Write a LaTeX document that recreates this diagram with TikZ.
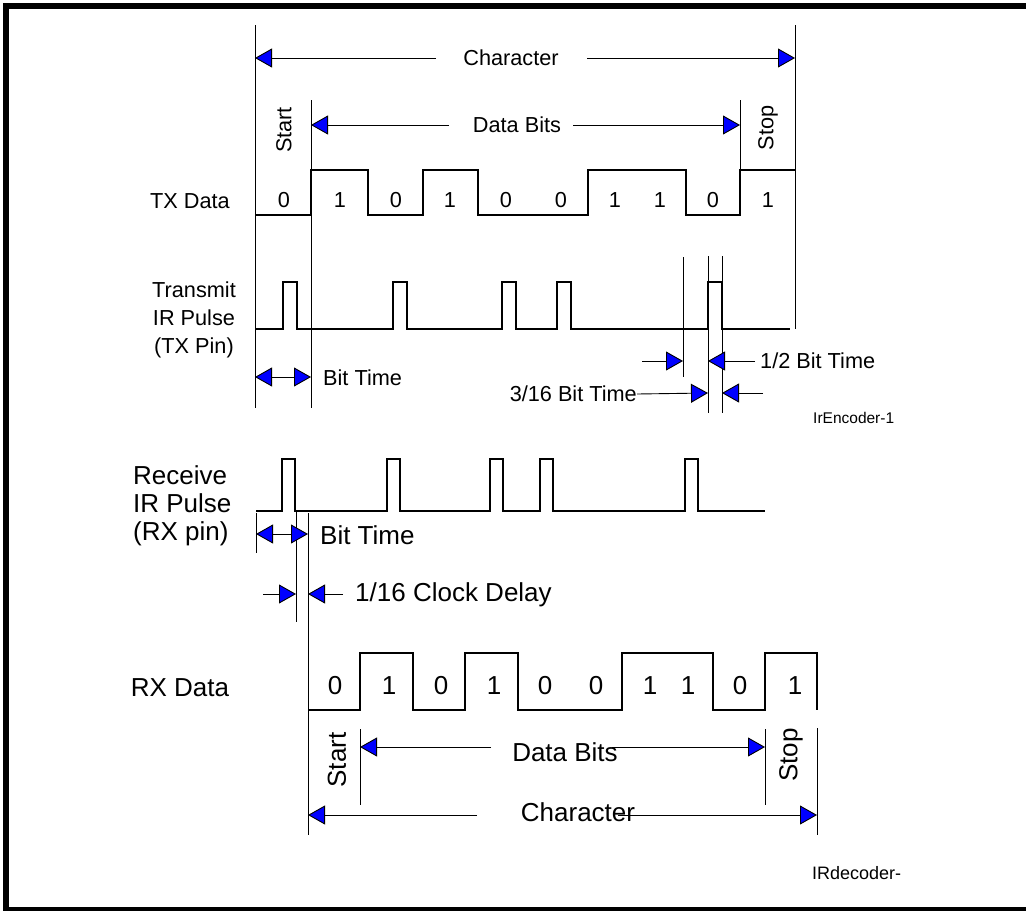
\documentclass[tikz,border=0pt]{standalone}
\usepackage{fontspec}
\setmainfont{Liberation Sans}
\usetikzlibrary{arrows.meta}
\tikzset{
  ln/.style={line width=1pt, black},
  wv/.style={line width=1.3pt, black, line join=miter},
  tip/.style={line width=0.9pt, -{Triangle[length=17pt,width=19pt,fill=blue]}},
  tips/.style={line width=0.9pt, {Triangle[length=17pt,width=19pt,fill=blue]}-{Triangle[length=17pt,width=19pt,fill=blue]}},
  ta/.style={font=\fontsize{21.7}{28}\selectfont, inner sep=0pt},
  tb/.style={font=\fontsize{26}{28}\selectfont, inner sep=0pt},
  tc/.style={font=\fontsize{15.5}{18}\selectfont, inner sep=0pt},
}
\begin{document}
\begin{tikzpicture}[x=1pt,y=-1pt]
\useasboundingbox (0,0) rectangle (1026,911);
% frame
\fill[black] (3,3) rectangle (1026,9);
\fill[black] (3,3) rectangle (9,911);
\fill[black] (3,907) rectangle (1026,911);

% ---------- top : TX ----------
\draw[ln] (255,25) -- (255,408);
\draw[ln] (795,25) -- (795,329);
\draw[ln] (311,100) -- (311,408);
\draw[ln] (740,100) -- (740,215);
% Character
\node[ta] (chT) at (511,58) {Character};
\coordinate (chTl) at (255,58); \coordinate (chTr) at (795,58);
\draw[tip] (436,58) -- (chTl);
\draw[tip] (587,58) -- (chTr);
% Data bits
\node[ta] (dbT) at (517,125) {Data Bits};
\coordinate (dbTl) at (311,125); \coordinate (dbTr) at (740,125);
\draw[tip] (449,125) -- (dbTl);
\draw[tip] (573,125) -- (dbTr);
\node[ta, rotate=90] (stT) at (284,130) {Start};
\node[ta, rotate=90] (spT) at (768,128) {Stop};
% TX data waveform
\node[ta] (txl) at (190,201) {TX Data};
\draw[wv] (255,215) -- (311,215) -- (311,170) -- (368,170) -- (368,215) -- (423,215) -- (423,170)
  -- (478,170) -- (478,215) -- (588,215) -- (588,170) -- (686,170) -- (686,215) -- (740,215)
  -- (740,170) -- (795,170);
\foreach \x/\v [count=\i] in {284/0,340/1,396/0,450/1,506/0,561/0,615/1,660/1,713/0,768/1}
  \node[ta] (tb\i) at (\x,200) {\v};
% Transmit IR pulse
\node[ta, align=center] (txp) at (194,320) {Transmit\\IR Pulse\\(TX Pin)};
\draw[wv] (255,329) -- (283,329) -- (283,282) -- (297,282) -- (297,329)
  -- (393,329) -- (393,282) -- (407,282) -- (407,329)
  -- (502,329) -- (502,282) -- (516,282) -- (516,329)
  -- (557,329) -- (557,282) -- (571,282) -- (571,329)
  -- (708,329) -- (708,282) -- (722,282) -- (722,329) -- (790,329);
\draw[ln] (683,257) -- (683,377);
\draw[ln] (708,256) -- (708,413);
\draw[ln] (722,256) -- (722,413);
% Bit time
\coordinate (btl) at (255,377); \coordinate (btr) at (311,377);
\draw[tips] (btl) -- (btr);
\node[ta, anchor=west] (btT) at (323,378) {Bit Time};
% 1/2 bit time
\draw[tip] (642,361) -- (683,361);
\draw[tip] (755,361) -- (708,361);
\node[ta, anchor=west] (hbt) at (760,361) {1/2 Bit Time};
% 3/16 bit time
\node[ta, anchor=east] (tst) at (637,394) {3/16 Bit Time};
\draw[tip] (tst.east) -- (708,393);
\draw[tip] (763,393) -- (722,393);
\node[tc, anchor=west] (enc) at (813,418) {IrEncoder-1};

% ---------- bottom : RX ----------
\node[tb, align=left, anchor=west] (rxp) at (133,506) {Receive\\IR Pulse\\(RX pin)};
\draw[wv] (256,511) -- (282,511) -- (282,459) -- (295,459) -- (295,511)
  -- (387,511) -- (387,459) -- (400,459) -- (400,511)
  -- (490,511) -- (490,459) -- (503,459) -- (503,511)
  -- (540,511) -- (540,459) -- (553,459) -- (553,511)
  -- (685,511) -- (685,459) -- (698,459) -- (698,511) -- (765,511);
\draw[ln] (256,513) -- (256,553);
\draw[ln] (296,511) -- (296,622);
\draw[ln] (308,513) -- (308,835);
\draw[tips] (256,534) -- (308,534);
\node[tb, anchor=west] (btB) at (320,535) {Bit Time};
\draw[tip] (263,594) -- (296,594);
\draw[tip] (343,594) -- (308,594);
\node[tb, anchor=west] (cd) at (355,595) {1/16 Clock Delay};
% RX data
\node[tb] (rxl) at (180,688) {RX Data};
\draw[wv] (308,710) -- (360,710) -- (360,653) -- (413,653) -- (413,710) -- (465,710) -- (465,653)
  -- (518,653) -- (518,710) -- (622,710) -- (622,653) -- (713,653) -- (713,710) -- (765,710)
  -- (765,653) -- (817,653) -- (817,710);
\foreach \x/\v [count=\i] in {335/0,389/1,441/0,494/1,545/0,596/0,650/1,688/1,740/0,795/1}
  \node[tb] (rb\i) at (\x,686) {\v};
\draw[ln] (360,729) -- (360,805);
\draw[ln] (765,729) -- (765,805);
\draw[ln] (817,728) -- (817,835);
\node[tb] (dbB) at (565,752) {Data Bits};
\draw[tip] (491,747) -- (360,747);
\draw[tip] (612,747) -- (765,747);
\node[tb, rotate=90] (stB) at (337,760) {Start};
\node[tb, rotate=90] (spB) at (791,755) {Stop};
\node[tb] (chB) at (578,812) {Character};
\draw[tip] (477,815) -- (308,815);
\draw[tip] (618,815) -- (817,815);
\node[font=\fontsize{18}{20}\selectfont, inner sep=0pt, anchor=west] (dec) at (812,873) {IRdecoder-};
\end{tikzpicture}
\end{document}
